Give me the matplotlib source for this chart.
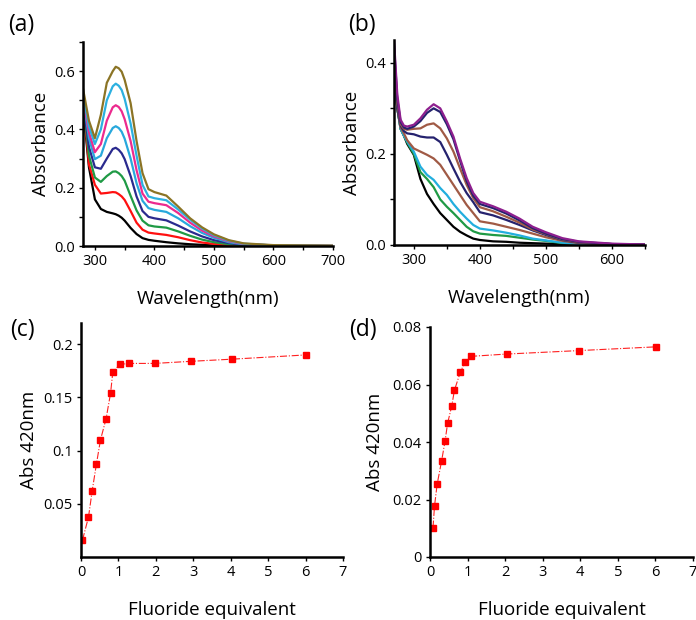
import numpy as np
import matplotlib
matplotlib.use('Agg')
import matplotlib.pyplot as plt
from matplotlib.ticker import MultipleLocator, FormatStrFormatter

plt.rcParams['font.family'] = ['Open Sans', 'DejaVu Sans']

# (a) 吸收光谱
wl_a = [280, 290, 300, 310, 320, 330, 335, 340, 345, 350, 360, 370, 380, 390, 400,
        420, 440, 460, 480, 500, 525, 550, 600, 700]
a_black = [0.48, 0.27, 0.16, 0.127, 0.117, 0.112, 0.109, 0.104, 0.097, 0.087, 0.062, 0.041, 0.027, 0.021, 0.018,
           0.013, 0.009, 0.006, 0.004, 0.002, 0.001, 0.0005, 0.0, 0.0]
a_red = [0.50, 0.28, 0.21, 0.18, 0.182, 0.185, 0.184, 0.178, 0.17, 0.158, 0.12, 0.08, 0.056, 0.046, 0.043,
         0.038, 0.03, 0.02, 0.012, 0.007, 0.004, 0.002, 0.001, 0.0]
a_green = [0.50, 0.31, 0.235, 0.22, 0.24, 0.255, 0.256, 0.25, 0.24, 0.224, 0.172, 0.122, 0.087, 0.071, 0.067,
           0.063, 0.05, 0.035, 0.022, 0.013, 0.006, 0.003, 0.001, 0.0]
a_navy = [0.50, 0.34, 0.27, 0.265, 0.30, 0.333, 0.337, 0.33, 0.318, 0.298, 0.24, 0.17, 0.12, 0.10, 0.095,
          0.088, 0.07, 0.05, 0.033, 0.02, 0.01, 0.004, 0.001, 0.0]
a_cyan1 = [0.51, 0.37, 0.298, 0.31, 0.37, 0.405, 0.411, 0.405, 0.392, 0.368, 0.30, 0.215, 0.155, 0.13, 0.124,
           0.117, 0.095, 0.068, 0.045, 0.028, 0.013, 0.006, 0.002, 0.0]
a_pink = [0.51, 0.39, 0.322, 0.35, 0.43, 0.476, 0.483, 0.477, 0.462, 0.435, 0.36, 0.26, 0.18, 0.152, 0.147,
          0.14, 0.113, 0.08, 0.053, 0.033, 0.016, 0.007, 0.002, 0.0]
a_cyan2 = [0.52, 0.41, 0.35, 0.40, 0.50, 0.548, 0.557, 0.55, 0.535, 0.505, 0.42, 0.31, 0.21, 0.17, 0.164,
           0.157, 0.125, 0.09, 0.06, 0.037, 0.018, 0.008, 0.002, 0.0]
a_olive = [0.54, 0.43, 0.37, 0.45, 0.56, 0.60, 0.615, 0.61, 0.598, 0.57, 0.49, 0.36, 0.25, 0.195, 0.185,
           0.173, 0.135, 0.095, 0.064, 0.04, 0.02, 0.009, 0.003, 0.001]

# (b) 吸收光谱
wl_b = [270, 275, 280, 285, 290, 300, 310, 320, 330, 340, 350, 360, 370, 380, 390, 400,
        420, 440, 460, 480, 500, 525, 550, 600, 650]
b_black = [0.38, 0.30, 0.255, 0.24, 0.222, 0.198, 0.145, 0.112, 0.09, 0.07, 0.055, 0.04, 0.029, 0.021, 0.014, 0.011,
           0.008, 0.007, 0.005, 0.004, 0.003, 0.002, 0.001, 0.0, 0.0]
b_green = [0.39, 0.30, 0.255, 0.24, 0.225, 0.20, 0.16, 0.145, 0.127, 0.10, 0.084, 0.07, 0.055, 0.04, 0.03, 0.025,
           0.022, 0.02, 0.016, 0.012, 0.009, 0.004, 0.002, 0.0, 0.0]
b_cyan = [0.40, 0.30, 0.255, 0.24, 0.227, 0.205, 0.172, 0.154, 0.143, 0.125, 0.11, 0.09, 0.073, 0.058, 0.044, 0.036,
          0.032, 0.027, 0.021, 0.014, 0.01, 0.005, 0.002, 0.0, 0.0]
b_brown1 = [0.41, 0.30, 0.258, 0.245, 0.23, 0.212, 0.205, 0.198, 0.19, 0.176, 0.154, 0.132, 0.11, 0.088, 0.07, 0.052,
            0.047, 0.04, 0.033, 0.025, 0.017, 0.009, 0.004, 0.001, 0.0]
b_navy1 = [0.42, 0.30, 0.262, 0.25, 0.245, 0.243, 0.238, 0.236, 0.236, 0.226, 0.198, 0.168, 0.139, 0.114, 0.094, 0.072,
           0.065, 0.055, 0.044, 0.032, 0.022, 0.011, 0.005, 0.002, 0.0]
b_brown2 = [0.43, 0.31, 0.265, 0.255, 0.253, 0.255, 0.256, 0.264, 0.267, 0.256, 0.234, 0.205, 0.168, 0.132, 0.103, 0.083,
            0.074, 0.062, 0.049, 0.034, 0.024, 0.012, 0.006, 0.002, 0.001]
b_navy2 = [0.44, 0.32, 0.27, 0.258, 0.255, 0.26, 0.272, 0.29, 0.30, 0.292, 0.265, 0.232, 0.185, 0.14, 0.108, 0.09,
           0.081, 0.069, 0.054, 0.037, 0.025, 0.013, 0.007, 0.002, 0.001]
b_purple = [0.45, 0.33, 0.275, 0.262, 0.26, 0.264, 0.278, 0.297, 0.309, 0.30, 0.271, 0.238, 0.19, 0.147, 0.114, 0.095,
            0.085, 0.073, 0.058, 0.04, 0.028, 0.015, 0.008, 0.003, 0.001]

# (c) 420nm 吸光度
eq_c = [0.04, 0.2, 0.3, 0.41, 0.52, 0.67, 0.79, 0.85, 1.04, 1.28, 1.97, 2.95, 4.04, 6.02]
abs_c = [0.016, 0.0375, 0.0625, 0.087, 0.11, 0.13, 0.154, 0.174, 0.181, 0.182, 0.182, 0.184, 0.186, 0.19]

# (d) 420nm 吸光度
eq_d = [0.08, 0.12, 0.19, 0.31, 0.40, 0.47, 0.58, 0.65, 0.81, 0.93, 1.10, 2.05, 3.97, 6.02]
abs_d = [0.0102, 0.0177, 0.0253, 0.0335, 0.0403, 0.0466, 0.0526, 0.058, 0.0644, 0.0678, 0.0698, 0.0706, 0.0718, 0.0731]

fig = plt.figure(figsize=(6.96, 6.2), dpi=100)
ax_a = fig.add_axes([83 / 696, 1 - 246 / 620, 250 / 696, 204 / 620])
ax_b = fig.add_axes([394 / 696, 1 - 245 / 620, 251 / 696, 205 / 620])
ax_c = fig.add_axes([81 / 696, 1 - 557 / 620, 262 / 696, 234 / 620])
ax_d = fig.add_axes([430 / 696, 1 - 557 / 620, 263 / 696, 230 / 620])


def style(ax):
    for s in ['top', 'right']:
        ax.spines[s].set_visible(False)
    for s in ['left', 'bottom']:
        ax.spines[s].set_linewidth(1.8)
    ax.tick_params(which='both', direction='out', width=1.0, labelsize=10.5, pad=3)
    ax.tick_params(which='major', length=3)
    ax.tick_params(which='minor', length=3)


# (a)
for y, c in [(a_black, 'black'), (a_red, '#ff1010'), (a_green, '#1f9a45'), (a_navy, '#2a2a8e'),
             (a_cyan1, '#28a8dc'), (a_pink, '#ec2a8e'), (a_cyan2, '#2cb0e0'), (a_olive, '#8b7425')]:
    ax_a.plot(wl_a, y, color=c, lw=1.6)
ax_a.set_xlim(280, 700)
ax_a.set_ylim(0, 0.7)
ax_a.set_xticks([300, 400, 500, 600, 700])
ax_a.xaxis.set_minor_locator(MultipleLocator(50))
ax_a.set_yticks([0.0, 0.2, 0.4, 0.6])
ax_a.yaxis.set_minor_locator(MultipleLocator(0.1))
ax_a.yaxis.set_major_formatter(FormatStrFormatter('%.1f'))
ax_a.set_xlabel('Wavelength(nm)', fontsize=13.5, labelpad=15)
ax_a.set_ylabel('Absorbance', fontsize=13.5, labelpad=3)
style(ax_a)

# (b)
for y, c in [(b_black, 'black'), (b_green, '#1f9a45'), (b_cyan, '#22aede'), (b_brown1, '#a05a45'),
             (b_navy1, '#25226e'), (b_brown2, '#a05a45'), (b_navy2, '#25226e'), (b_purple, '#8e1f8e')]:
    ax_b.plot(wl_b, y, color=c, lw=1.6)
ax_b.set_xlim(270, 650)
ax_b.set_ylim(0, 0.45)
ax_b.set_xticks([300, 400, 500, 600])
ax_b.xaxis.set_minor_locator(MultipleLocator(50))
ax_b.set_yticks([0.0, 0.2, 0.4])
ax_b.yaxis.set_minor_locator(MultipleLocator(0.1))
ax_b.yaxis.set_major_formatter(FormatStrFormatter('%.1f'))
ax_b.set_xlabel('Wavelength(nm)', fontsize=13.5, labelpad=15)
ax_b.set_ylabel('Absorbance', fontsize=13.5, labelpad=3)
style(ax_b)

# (c)
ax_c.plot(eq_c, abs_c, color='#ff2020', lw=0.8, ls='-.', marker='s', ms=5,
          mfc='#ff0000', mec='#ff0000')
ax_c.set_xlim(0, 7)
ax_c.set_ylim(0, 0.22)
ax_c.set_xticks(range(0, 8))
ax_c.set_yticks([0.05, 0.1, 0.15, 0.2])
ax_c.yaxis.set_major_formatter(FormatStrFormatter('%g'))
ax_c.set_xlabel('Fluoride equivalent', fontsize=13.5, labelpad=15)
ax_c.set_ylabel('Abs 420nm', fontsize=13.5, labelpad=4)
style(ax_c)

# (d)
ax_d.plot(eq_d, abs_d, color='#ff2020', lw=0.8, ls='-.', marker='s', ms=5,
          mfc='#ff0000', mec='#ff0000')
ax_d.set_xlim(0, 7)
ax_d.set_ylim(0, 0.08)
ax_d.set_xticks(range(0, 8))
ax_d.set_yticks([0, 0.02, 0.04, 0.06, 0.08])
ax_d.yaxis.set_major_formatter(FormatStrFormatter('%g'))
ax_d.set_xlabel('Fluoride equivalent', fontsize=13.5, labelpad=15)
ax_d.set_ylabel('Abs 420nm', fontsize=13.5, labelpad=6)
style(ax_d)

for x, y, t in [(8, 25, '(a)'), (348, 25, '(b)'), (10, 330, '(c)'), (349, 330, '(d)')]:
    fig.text(x / 696, 1 - y / 620, t, fontsize=16.5, va='center', ha='left')

fig.savefig('out.png', dpi=100)
